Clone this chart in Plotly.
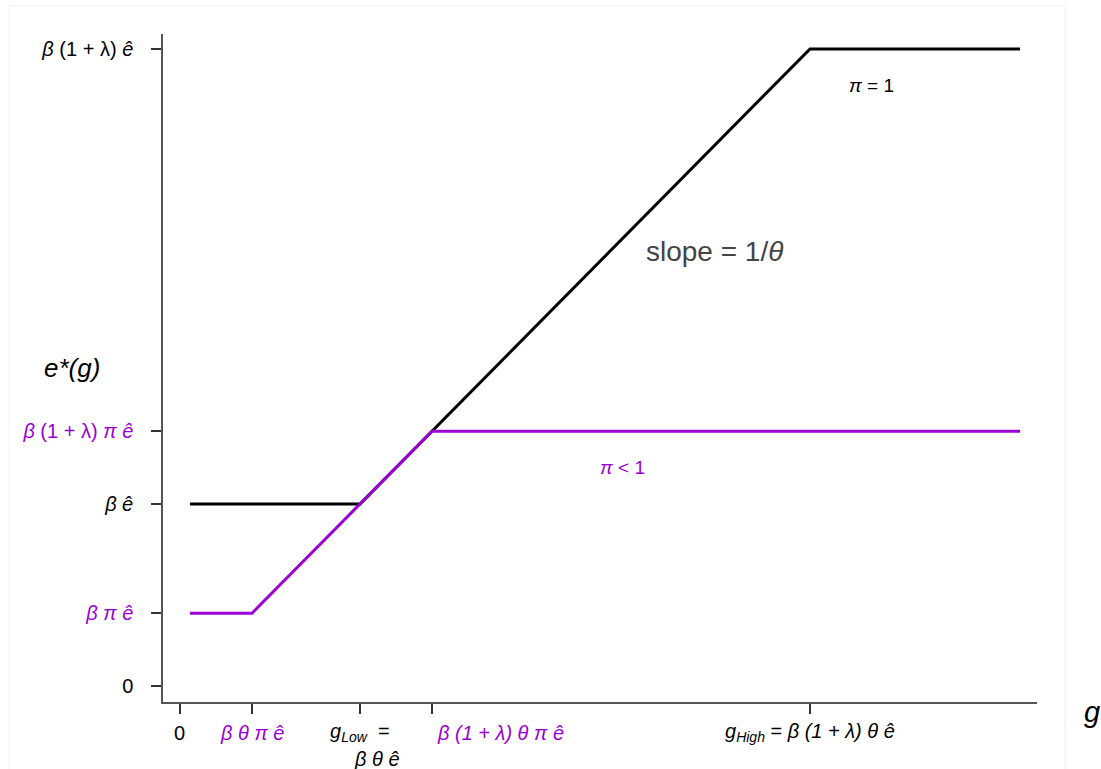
import plotly.graph_objects as go

# data (beta = e_hat = theta = 1, pi = 0.4, lambda = 2.5)
g_full = [0.056, 1.0, 3.5, 4.667]
e_full = [1.0, 1.0, 3.5, 3.5]          # pi = 1
g_part = [0.056, 0.4, 1.4, 4.667]
e_part = [0.4, 0.4, 1.4, 1.4]          # pi < 1

x_tickvals = [0, 0.4, 1.0, 1.4, 3.5]
y_tickvals = [0, 0.4, 1.0, 1.4, 3.5]

PURPLE = "#9A00D4"
BLACK = "#000000"

def c(txt, col):
    return f'<span style="color:{col}">{txt}</span>'

y_ticktext = [
    c("0", BLACK),
    c("<i>β π ê</i>", PURPLE),
    c("<i>β ê</i>", BLACK),
    c("<i>β</i> (1 + λ) <i>π ê</i>", PURPLE),
    c("<i>β</i> (1 + λ) <i>ê</i>", BLACK),
]

FONT = "Arial, Liberation Sans, sans-serif"
FS = 20

fig = go.Figure()
fig.add_trace(go.Scatter(x=g_full, y=e_full, mode="lines",
                         line=dict(color=BLACK, width=3), showlegend=False))
fig.add_trace(go.Scatter(x=g_part, y=e_part, mode="lines",
                         line=dict(color=PURPLE, width=3), showlegend=False))

fig.update_layout(
    width=1101, height=769,
    margin=dict(l=163, r=64, t=34, b=67),
    plot_bgcolor="white", paper_bgcolor="white",
    font=dict(family=FONT, size=FS, color="black"),
    xaxis=dict(range=[-0.0944, 4.761], showgrid=False, zeroline=False,
               showline=True, linecolor="#555555", linewidth=1.5,
               ticks="outside", ticklen=10, tickcolor="#333333", tickwidth=1.5,
               tickvals=x_tickvals, showticklabels=False, automargin=False),
    yaxis=dict(range=[-0.088, 3.582], showgrid=False, zeroline=False,
               showline=True, linecolor="#555555", linewidth=1.5,
               ticks="outside", ticklen=10, tickcolor="#333333", tickwidth=1.5,
               tickvals=y_tickvals, ticktext=y_ticktext, automargin=False,
               ticklabelstandoff=14, tickfont=dict(size=FS, family=FONT)),
)

# x-axis labels as annotations anchored at the tick values
Y1 = -0.0464
Y2 = -0.0853
xlab = [
    (x_tickvals[0], Y1, "0", BLACK, "center", 0),
    (x_tickvals[1], Y1, "<i>β θ π ê</i>", PURPLE, "center", 0),
    (x_tickvals[2], Y1, "<i>g</i><sub><i>Low</i></sub>  =", BLACK, "center", 0),
    (x_tickvals[2], Y2, "<i>β θ ê</i>", BLACK, "center", 17),
    (x_tickvals[3], Y1, "<i>β (1 + λ) θ π ê</i>", PURPLE, "left", 3),
    (x_tickvals[4], Y1, "<i>g</i><sub><i>High</i></sub> = <i>β (1 + λ) θ ê</i>", BLACK, "center", 0),
]
for xv, yv, txt, col, anc, xs in xlab:
    fig.add_annotation(x=xv, y=yv, xref="x", yref="paper", text=txt,
                       showarrow=False, xanchor=anc, yanchor="middle", xshift=xs,
                       font=dict(size=FS, color=col, family=FONT))

fig.add_annotation(x=-0.104, y=1.747, xref="paper", yref="y", text="<i>e*(g)</i>",
                   showarrow=False, font=dict(size=26, color="black"), xanchor="center")
fig.add_annotation(x=1.063, y=-0.042, xref="paper", yref="paper", text="<i>g</i>",
                   showarrow=False, font=dict(size=29, color="black"), xanchor="center")
fig.add_annotation(x=2.97, y=2.385, xref="x", yref="y", text="slope = 1/<i>θ</i>",
                   showarrow=False, font=dict(size=28, color="#444444"), xanchor="center")
fig.add_annotation(x=3.84, y=3.297, xref="x", yref="y", text="<i>π</i> = 1",
                   showarrow=False, font=dict(size=19, color="black"), xanchor="center")
fig.add_annotation(x=2.456, y=1.203, xref="x", yref="y", text="<i>π</i> &lt; 1",
                   showarrow=False, font=dict(size=19, color=PURPLE), xanchor="center")

# faint outer frame
fig.add_shape(type="rect", xref="paper", yref="paper",
              x0=-0.1762, x1=1.032, y0=-0.2, y1=1.0419,
              line=dict(color="#eef1f1", width=1), fillcolor="rgba(0,0,0,0)", layer="below")

fig.write_html("out.html")
